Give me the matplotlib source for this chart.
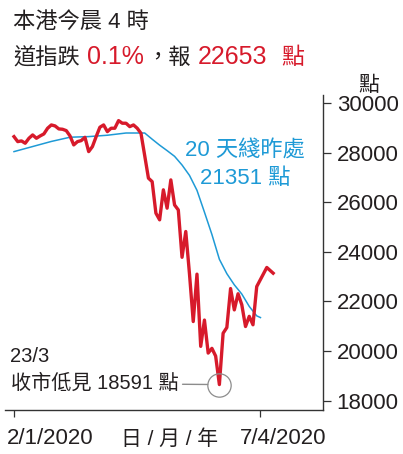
import matplotlib
matplotlib.use('Agg')
import matplotlib.pyplot as plt
from matplotlib.transforms import ScaledTranslation

plt.rcParams['font.family'] = ['Liberation Sans', 'Noto Sans CJK TC']

# ---- data ----
day_idx = list(range(66)) + [67.7, 69.4]
dow_close = [28644, 28443, 28471, 28377, 28578, 28713, 28578, 28672, 28753, 28982,
             29115, 29075, 28955, 28941, 28886, 28672, 28310, 28443, 28483, 28617,
             28040, 28242, 28644, 29022, 29115, 28846, 28982, 28982, 29289, 29184,
             29184, 29047, 29115, 28982, 28781, 27880, 26970, 26830, 25560, 25290,
             26500, 25760, 26900, 25890, 25690, 23780, 24820, 23100, 21190, 23100,
             20190, 21250, 19920, 20110, 19800, 18650, 20720, 20950, 22520, 21660,
             22310, 21870, 20990, 21400, 21060, 22600, 23370, 23140]
ma_idx = [0, 5, 10, 15, 20, 25, 30, 35, 37, 39, 41, 43, 45, 47, 49, 51, 53, 55,
          57, 59, 61, 63, 65, 66]
ma20 = [28040, 28245, 28450, 28620, 28645, 28700, 28790, 28790, 28540, 28300,
        28080, 27850, 27500, 27080, 26480, 25600, 24700, 23700, 23120, 22670,
        22300, 21800, 21420, 21351]
y_ticks = [18000, 20000, 22000, 24000, 26000, 28000, 30000]
x_tick_pos = [0, 66]
x_tick_labels = ['2/1/2020', '7/4/2020']
low_idx = 55
low_text = '18591'
ma_text = '21351'

RED = '#d71a2b'
BLUE = '#1e9ad6'
DARK = '#231f20'
GREY = '#8c8c8c'

W, H = 403, 454
fig = plt.figure(figsize=(W / 100, H / 100), dpi=100)
ax = fig.add_axes([5 / W, (H - 410) / H, 318 / W, 315 / H])

ax.plot(ma_idx, ma20, color=BLUE, lw=1.1, zorder=2)
ax.plot(day_idx, dow_close, color=RED, lw=2.4, zorder=3)

# low marker circle + connector
low_val = dow_close[low_idx]
ax.plot([low_idx], [low_val], marker='o', ms=16.8, mfc='none', mec=GREY,
        mew=0.9, zorder=4)
ax.annotate('收市低見 ' + low_text + ' 點', xy=(low_idx, low_val),
            xytext=(-41, 1), textcoords='offset pixels', ha='right', va='center',
            fontsize=14.5, color=DARK,
            arrowprops=dict(arrowstyle='-', color=GREY, lw=1.0,
                            shrinkA=1, shrinkB=8.4))
fig.text(10 / W, 1 - 361.5 / H, '23/3', fontsize=14.5, color=DARK,
         ha='left', va='baseline')

ax.set_xlim(-2.41, 82.75)
ax.set_ylim(17625, 30322)

for s in ['left', 'top']:
    ax.spines[s].set_visible(False)
for s in ['right', 'bottom']:
    ax.spines[s].set_color('#333333')
    ax.spines[s].set_linewidth(1.0)

ax.yaxis.tick_right()
ax.set_yticks(y_ticks)
ax.set_yticklabels([str(v) for v in y_ticks])
ax.tick_params(axis='y', direction='out', length=5.4, width=0.9, pad=4.5,
               labelsize=16, labelcolor=DARK, color='#333333')
ax.set_xticks(x_tick_pos)
ax.set_xticklabels(x_tick_labels)
ax.tick_params(axis='x', direction='out', length=5, width=0.9, pad=8,
               labelsize=16, labelcolor=DARK, color='#333333')
for lab, dx in zip(ax.get_xticklabels(), [25.7, 16.6]):
    lab.set_transform(lab.get_transform() + ScaledTranslation(dx / 72, 0, fig.dpi_scale_trans))

fig.text(170 / W, 1 - 445 / H, '日 / 月 / 年', fontsize=15, color=DARK,
         ha='center', va='baseline')
fig.text(369 / W, 1 - 85 / H, '點', fontsize=15, color=DARK,
         ha='center', va='center')

# blue annotation
fig.text(245 / W, 1 - 156.5 / H, '20 天綫昨處', fontsize=16, color=BLUE,
         ha='center', va='baseline')
fig.text(245 / W, 1 - 183.5 / H, ma_text + ' 點', fontsize=16, color=BLUE,
         ha='center', va='baseline')

# headline
fig.text(13 / W, 1 - 27.5 / H, '本港今晨 4 時', fontsize=16, color=DARK,
         ha='left', va='baseline')
base2 = 1 - 64.3 / H
fig.text(13 / W, base2, '道指跌', fontsize=16, color=DARK, ha='left', va='baseline')
fig.text(87 / W, base2, '0.1%', fontsize=18, color=RED, ha='left', va='baseline')
fig.text(146 / W, base2, '，報', fontsize=16, color=DARK, ha='left', va='baseline')
fig.text(198 / W, base2, '22653', fontsize=18, color=RED, ha='left', va='baseline')
fig.text(281 / W, base2, '點', fontsize=16.5, color=RED, ha='left', va='baseline')

fig.savefig('out.png', dpi=100)
